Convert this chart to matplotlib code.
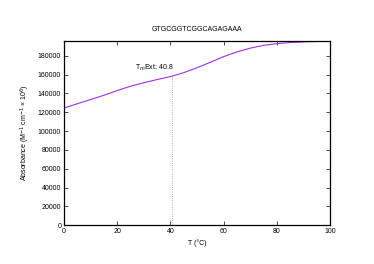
import numpy as np
import matplotlib.pyplot as plt

plt.rcParams['font.family'] = ['Liberation Sans', 'DejaVu Sans']

# melting curve
temps = [0, 5, 10, 15, 20, 25, 30, 35, 40, 45, 50,
         55, 60, 65, 70, 75, 80, 85, 90, 95, 100]
absorb = [124500, 129000, 133500, 138000, 143000, 147600, 151300, 154700,
          157800, 162000, 167200, 173000, 179000, 184000, 188000, 191000,
          192800, 194000, 194700, 195100, 195400]
tm = 40.8
tm_abs = 158400
seq = 'GTGCGGTCGGCAGAGAAA'

fig = plt.figure(figsize=(3.74, 2.64), dpi=100)
ax = fig.add_axes([0.171, 0.1466, 0.711, 0.6994])

ax.plot(temps, absorb, color='#a030e8', linewidth=0.8)
ax.plot([tm, tm], [0, tm_abs], color='#999999', linestyle=':', linewidth=0.6)
ax.annotate('T$_m$Ext: 40.8', (tm, tm_abs), xytext=(1, 2),
            textcoords='offset points', ha='right', va='bottom', fontsize=5)

ax.set_xlim(0, 100)
ax.set_ylim(0, 196000)
ax.set_xticks(range(0, 101, 20))
ax.set_yticks(range(0, 180001, 20000))
ax.tick_params(direction='in', length=3, width=0.5, labelsize=5,
               top=True, right=True, pad=2)
for s in ax.spines.values():
    s.set_linewidth(0.9)

ax.set_xlabel('T (°C)', fontsize=5, labelpad=3)
ax.set_ylabel('Absorbance (M$^{-1}$ cm$^{-1}$ × 10$^{6}$)', fontsize=5, labelpad=4)
ax.set_title(seq, fontsize=5, pad=7)

fig.savefig('out.png', dpi=100)
